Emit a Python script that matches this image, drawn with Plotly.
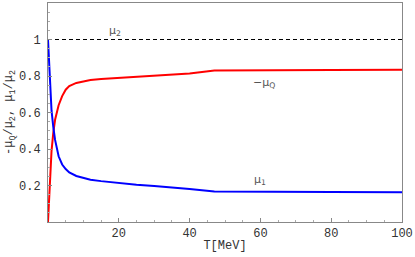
import plotly.graph_objects as go

# temperature grid (MeV) and ratios
T = [0, 0.5, 1, 1.5, 2, 3, 4, 5, 6, 8, 10, 12, 15, 20, 25, 30, 35, 40, 47, 60, 80, 100]
muQ_ratio = [0, 0.2, 0.39, 0.49, 0.56, 0.64, 0.69, 0.725, 0.745, 0.762, 0.772, 0.778,
             0.784, 0.79, 0.795, 0.8, 0.806, 0.814, 0.83, 0.832, 0.833, 0.834]
mu1_ratio = [1.0, 0.78, 0.61, 0.52, 0.45, 0.36, 0.315, 0.29, 0.272, 0.252, 0.24, 0.232,
             0.224, 0.213, 0.204, 0.197, 0.19, 0.181, 0.167, 0.165, 0.164, 0.163]
mu2_T = [0, 100]
mu2_ratio = [1, 1]

x_ticks = [20, 40, 60, 80, 100]
y_ticks = [0.2, 0.4, 0.6, 0.8, 1]
y_ticktext = ["0.2", "0.4", "0.6", "0.8", "1"]

mono = "Liberation Mono, DejaVu Sans Mono, monospace"

fig = go.Figure()
fig.add_trace(go.Scatter(x=mu2_T, y=mu2_ratio, mode="lines",
                         line=dict(color="black", width=1, dash="4px,3px")))
fig.add_trace(go.Scatter(x=T, y=muQ_ratio, mode="lines",
                         line=dict(color="#ff0000", width=2)))
fig.add_trace(go.Scatter(x=T, y=mu1_ratio, mode="lines",
                         line=dict(color="#0000ff", width=2)))

lab = dict(family="DejaVu Sans", size=11, color="#555")
fig.add_annotation(x=19, y=1.045, text="μ<sub>2</sub>", showarrow=False, font=lab)
fig.add_annotation(x=61, y=0.76, text="−μ<sub>Q</sub>", showarrow=False, font=lab)
fig.add_annotation(x=60, y=0.228, text="μ<sub>1</sub>", showarrow=False, font=lab)

fig.update_layout(
    width=415, height=257,
    margin=dict(l=48, r=13, t=3, b=35),
    paper_bgcolor="white", plot_bgcolor="white",
    showlegend=False,
    font=dict(family=mono, size=12, color="#333"),
)
fig.update_xaxes(
    range=[0, 100], tickvals=x_ticks, ticks="inside", ticklen=4, tickcolor="#888",
    showgrid=False, zeroline=False, showline=True, linecolor="#888", mirror=True,
    minor=dict(ticks="inside", dtick=5, ticklen=2, tickcolor="#aaa"),
    title=dict(text="T[MeV]", standoff=0, font=dict(family=mono, size=12)),
    automargin=False,
)
fig.update_yaxes(
    range=[0, 1.2], tickvals=y_ticks, ticktext=y_ticktext, ticks="inside", ticklen=4,
    tickcolor="#888", showgrid=False, zeroline=False, showline=True, linecolor="#888",
    mirror=True, ticklabelstandoff=4,
    minor=dict(ticks="inside", dtick=0.05, ticklen=2, tickcolor="#aaa"),
    title=dict(text="-μ<sub>Q</sub>/μ<sub>2</sub>, μ<sub>1</sub>/μ<sub>2</sub>",
               standoff=3, font=dict(family=mono, size=12)),
    automargin=False,
)

fig.write_html("out.html", config={"displayModeBar": False},
               post_script="document.body.style.margin='0';")
